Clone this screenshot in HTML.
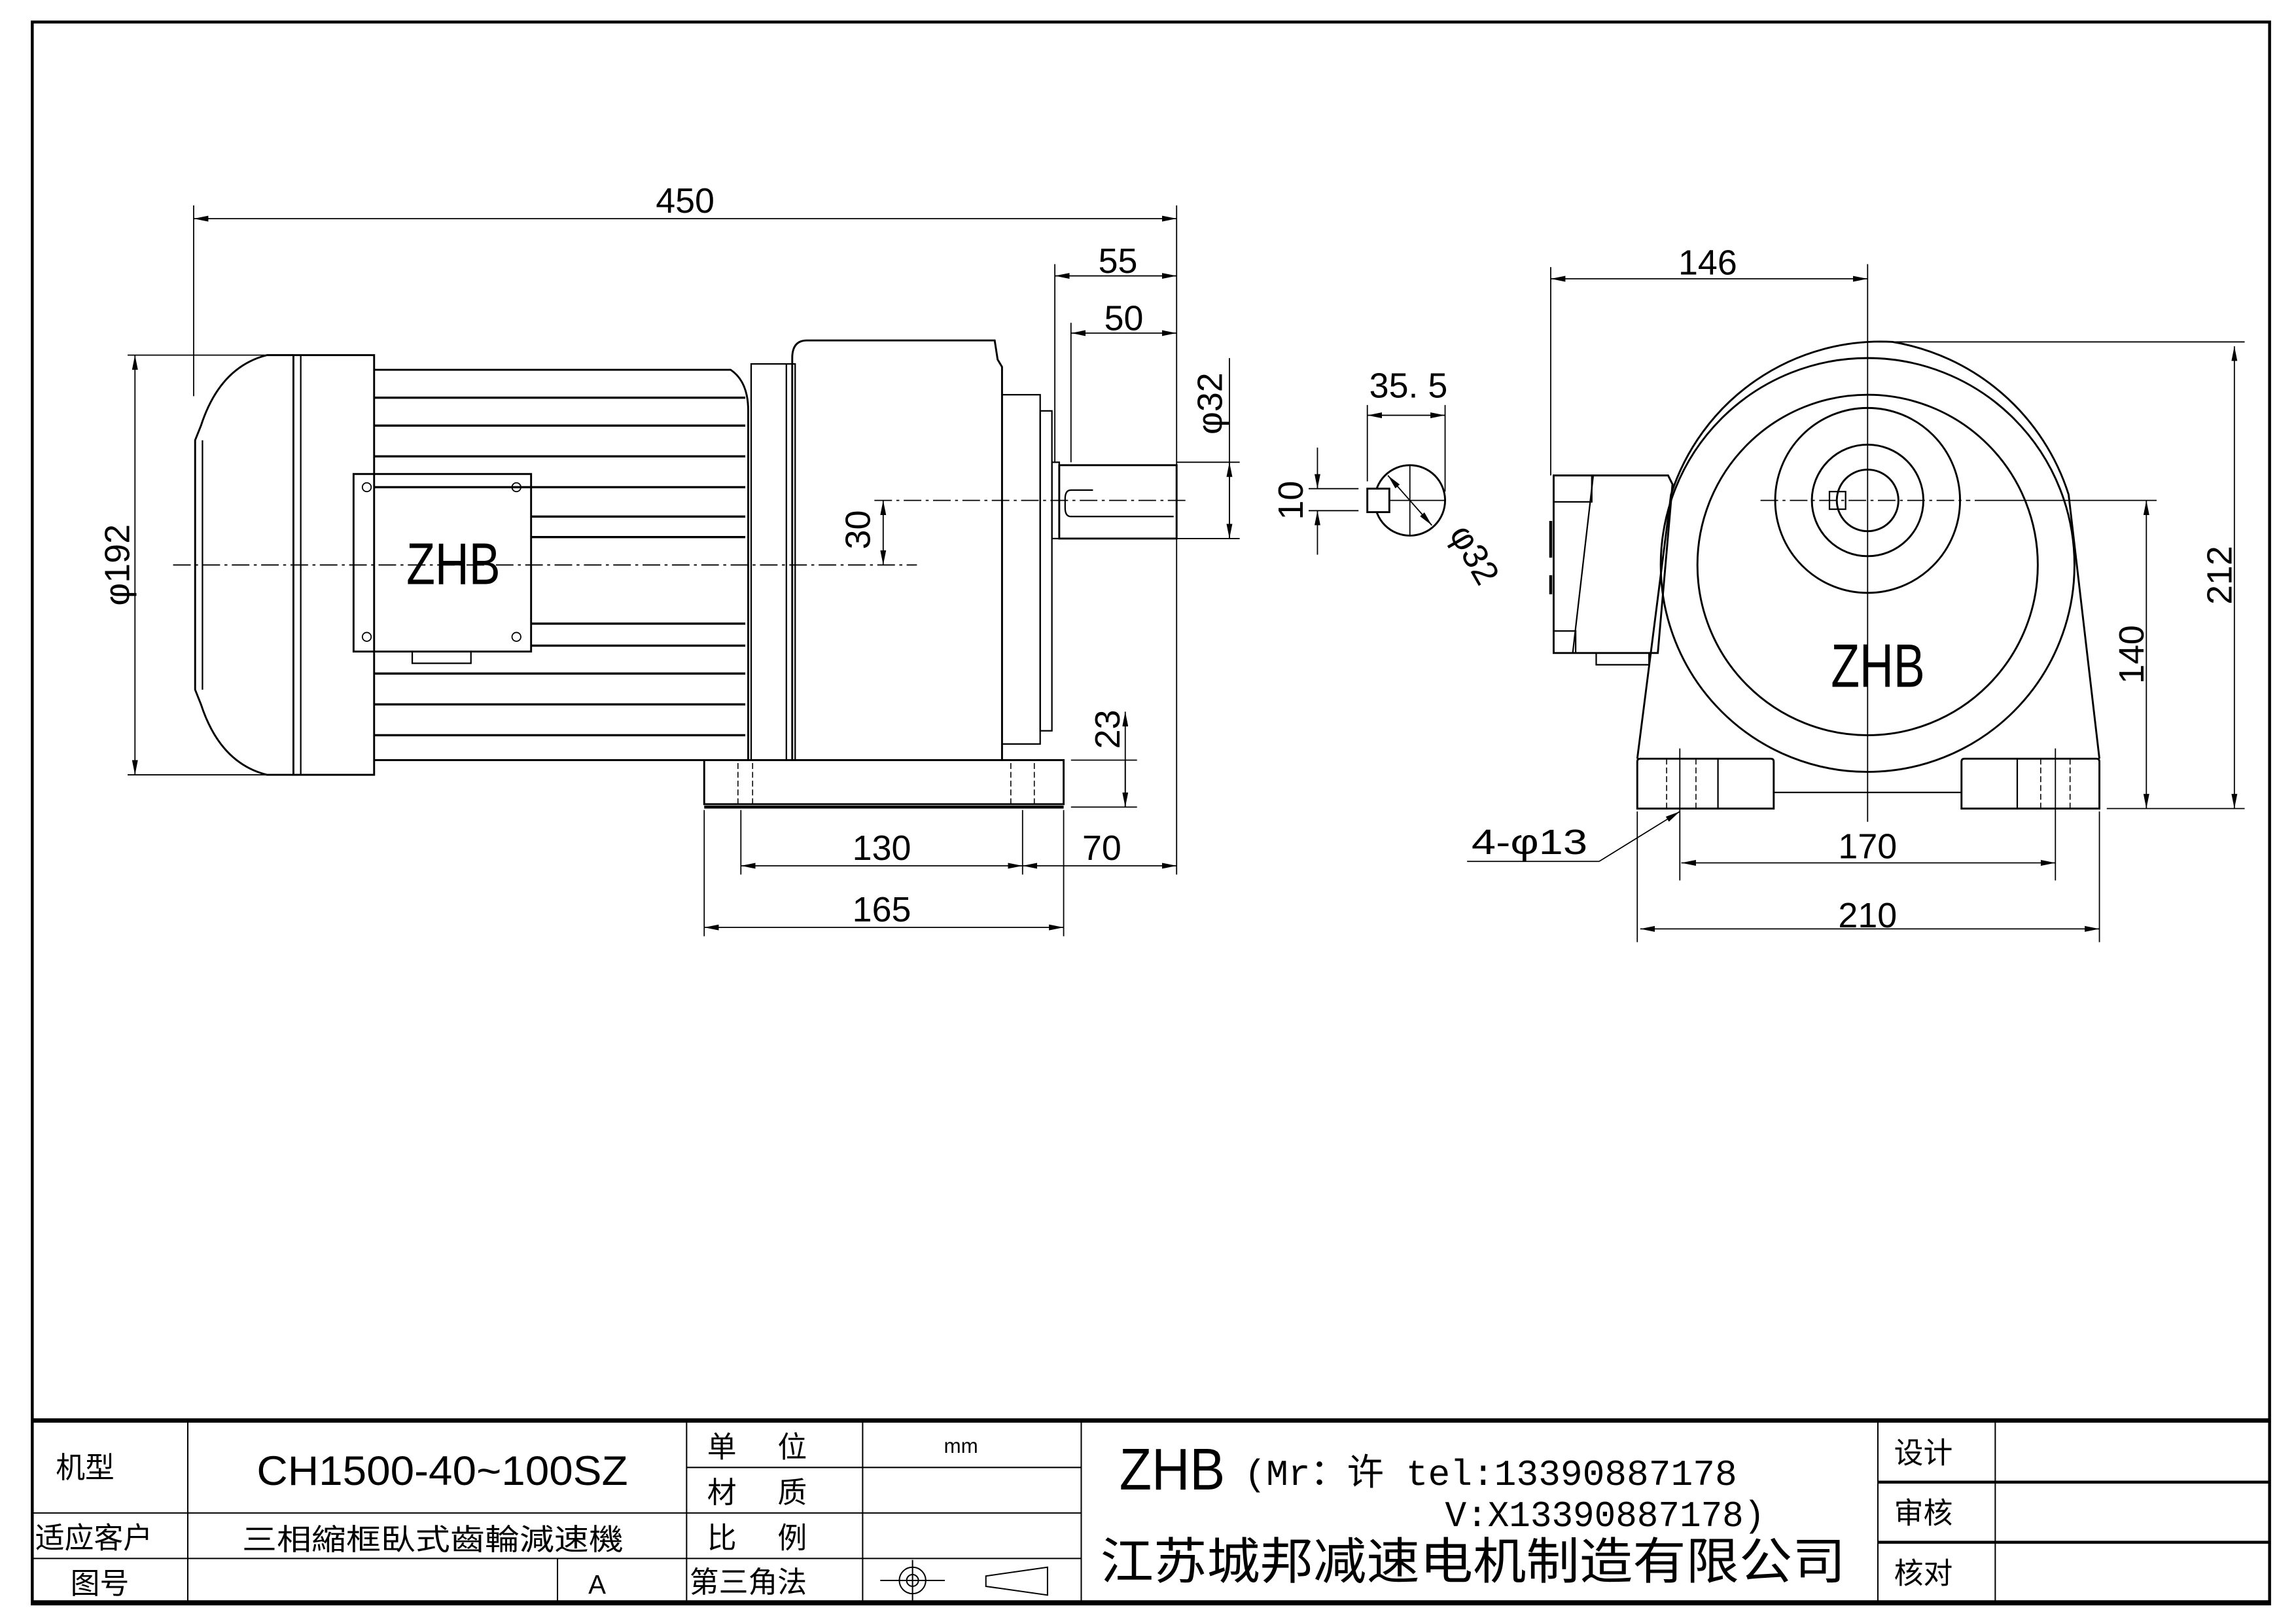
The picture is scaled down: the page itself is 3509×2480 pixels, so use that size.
<!DOCTYPE html>
<html><head><meta charset="utf-8"><style>html,body{margin:0;padding:0;background:#fff}svg{display:block}</style></head><body>
<svg width="3509" height="2480" viewBox="0 0 1565 1106" preserveAspectRatio="none" xmlns="http://www.w3.org/2000/svg" font-family="Liberation Sans, Noto Sans CJK SC, sans-serif">
<defs>
<marker id="a" viewBox="0 0 10 4" refX="10" refY="2" markerWidth="10" markerHeight="4" orient="auto-start-reverse" markerUnits="userSpaceOnUse"><path d="M0,0L10,2L0,4z" fill="#000"/></marker>
</defs>
<g fill="none" stroke="#000" stroke-width="1">
<rect x="22" y="15" width="1525" height="1078" stroke-width="2"/>
<path d="M200,242 L182,242 Q150,250 137,290 L133,300 L133,470 L137,480 Q150,520 182,528 L200,528" stroke-width="1.3"/>
<line x1="138" y1="300" x2="138" y2="470"/>
<rect x="200" y="242" width="55" height="286" stroke-width="1.3"/>
<line x1="205" y1="242" x2="205" y2="528"/>
<path d="M255,252 L498,252 Q510,260 510,280 L510,518 L255,518" stroke-width="1.3"/>
<g stroke-width="1.5">
<line x1="255" y1="271" x2="508" y2="271"/><line x1="255" y1="290" x2="508" y2="290"/><line x1="255" y1="311" x2="508" y2="311"/><line x1="255" y1="332" x2="508" y2="332"/><line x1="362" y1="352" x2="508" y2="352"/><line x1="362" y1="366" x2="508" y2="366"/><line x1="362" y1="425" x2="508" y2="425"/><line x1="362" y1="440" x2="508" y2="440"/><line x1="255" y1="459" x2="508" y2="459"/><line x1="255" y1="480" x2="508" y2="480"/><line x1="255" y1="501" x2="508" y2="501"/></g>
<rect x="241" y="323" width="121" height="121" stroke-width="1.3"/>
<rect x="281" y="444" width="40" height="8"/>
<g stroke-width="0.8"><circle cx="250" cy="332" r="3"/><circle cx="352" cy="332" r="3"/><circle cx="250" cy="434" r="3"/><circle cx="352" cy="434" r="3"/></g>
<rect x="512" y="248" width="30" height="270"/>
<path d="M540,518 L540,244 Q540,232 550,232 L678,232 L680,245 L683,250 L683,518 Z" stroke-width="1.3"/>
<line x1="536" y1="248" x2="536" y2="518"/>
<rect x="683" y="269" width="26" height="238"/>
<rect x="709" y="280" width="8" height="218"/>
<rect x="717" y="315" width="5" height="52"/>
<rect x="722" y="317" width="80" height="50" stroke-width="1.3"/>
<path d="M745,334 L730,334 Q726,334 726,340 L726,346 Q726,352 730,352 L800,352" />
<path d="M480,548 L480,518 L725,518 L725,548 Z" stroke-width="1.3"/>
<line x1="480" y1="550" x2="725" y2="550" stroke-width="2"/>
<g stroke-dasharray="4,2" stroke-width="0.7"><line x1="503" y1="520" x2="503" y2="550"/><line x1="513" y1="520" x2="513" y2="550"/><line x1="689" y1="520" x2="689" y2="550"/><line x1="705" y1="520" x2="705" y2="550"/></g>
<g stroke-dasharray="12,3,2,3" stroke-width="0.8"><line x1="118" y1="385" x2="625" y2="385"/><line x1="596" y1="341" x2="808" y2="341"/></g>
<g stroke-width="0.8">
<line x1="132" y1="140" x2="132" y2="270"/><line x1="802" y1="140" x2="802" y2="596"/>
<line x1="132" y1="149" x2="802" y2="149" marker-start="url(#a)" marker-end="url(#a)"/>
<line x1="719" y1="180" x2="719" y2="315"/><line x1="719" y1="188" x2="802" y2="188" marker-start="url(#a)" marker-end="url(#a)"/>
<line x1="730" y1="220" x2="730" y2="315"/><line x1="730" y1="227" x2="802" y2="227" marker-start="url(#a)" marker-end="url(#a)"/>
<line x1="802" y1="315" x2="845" y2="315"/><line x1="802" y1="367" x2="845" y2="367"/>
<line x1="838" y1="244" x2="838" y2="367" marker-end="url(#a)"/><line x1="838" y1="315" x2="838" y2="367" marker-start="url(#a)"/>
<line x1="87" y1="242" x2="200" y2="242"/><line x1="87" y1="528" x2="200" y2="528"/>
<line x1="92" y1="242" x2="92" y2="528" marker-start="url(#a)" marker-end="url(#a)"/>
<line x1="602" y1="341" x2="602" y2="385" marker-start="url(#a)" marker-end="url(#a)"/>
<line x1="730" y1="518" x2="775" y2="518"/><line x1="730" y1="550" x2="775" y2="550"/>
<line x1="767" y1="485" x2="767" y2="550" marker-start="url(#a)"/><line x1="767" y1="518" x2="767" y2="550" marker-end="url(#a)"/>
<line x1="480" y1="552" x2="480" y2="638"/><line x1="725" y1="552" x2="725" y2="638"/><line x1="505" y1="552" x2="505" y2="596"/><line x1="697" y1="552" x2="697" y2="596"/>
<line x1="505" y1="590" x2="697" y2="590" marker-start="url(#a)" marker-end="url(#a)"/>
<line x1="697" y1="590" x2="802" y2="590" marker-start="url(#a)" marker-end="url(#a)"/>
<line x1="480" y1="632" x2="725" y2="632" marker-start="url(#a)" marker-end="url(#a)"/>
<line x1="932" y1="276" x2="932" y2="328"/><line x1="985" y1="276" x2="985" y2="335"/>
<line x1="932" y1="283" x2="985" y2="283" marker-start="url(#a)" marker-end="url(#a)"/>
<line x1="892" y1="333" x2="926" y2="333"/><line x1="892" y1="348" x2="926" y2="348"/>
<line x1="898" y1="305" x2="898" y2="333" marker-end="url(#a)"/><line x1="898" y1="348" x2="898" y2="378" marker-start="url(#a)"/>
<line x1="961" y1="317" x2="961" y2="365"/><line x1="937" y1="341" x2="985" y2="341"/>
<line x1="946" y1="324" x2="976" y2="358" marker-start="url(#a)" marker-end="url(#a)"/>
</g>
<circle cx="961" cy="341" r="24" stroke-width="1.3"/>
<rect x="932" y="333" width="15" height="16" fill="#fff" stroke-width="1.3"/>
<path d="M1116,517 L1139,337 A150,150 0 0 1 1290,233 A152,152 0 0 1 1410,337 L1431,517" stroke-width="1.3"/>
<circle cx="1273" cy="385" r="141" stroke-width="1.3"/>
<circle cx="1273" cy="385" r="116" stroke-width="1.3"/>
<circle cx="1273" cy="341" r="63" stroke-width="1.3"/>
<circle cx="1273" cy="341" r="38" stroke-width="1.3"/>
<circle cx="1273" cy="341" r="21" stroke-width="1.3"/>
<rect x="1247" y="335" width="11" height="12"/>
<path d="M1059,324 L1137,324 L1140,330 L1130,445 L1059,445 Z" stroke-width="1.3"/>
<line x1="1086" y1="324" x2="1072" y2="445"/>
<rect x="1059" y="324" width="26" height="18"/><rect x="1059" y="430" width="15" height="15"/>
<rect x="1088" y="445" width="36" height="8"/>
<line x1="1057" y1="355" x2="1057" y2="380" stroke-width="2"/><line x1="1057" y1="392" x2="1057" y2="405" stroke-width="2"/>
<path d="M1116,551 L1116,519 Q1116,517 1118,517 L1207,517 Q1209,517 1209,519 L1209,551 Z" stroke-width="1.3"/>
<path d="M1337,551 L1337,519 Q1337,517 1339,517 L1429,517 Q1431,517 1431,519 L1431,551 Z" stroke-width="1.3"/>
<line x1="1209" y1="540" x2="1337" y2="540"/>
<line x1="1171" y1="517" x2="1171" y2="551"/><line x1="1375" y1="517" x2="1375" y2="551"/>
<g stroke-dasharray="4,2" stroke-width="0.7"><line x1="1136" y1="517" x2="1136" y2="551"/><line x1="1156" y1="517" x2="1156" y2="551"/><line x1="1391" y1="517" x2="1391" y2="551"/><line x1="1411" y1="517" x2="1411" y2="551"/></g>
<g stroke-width="0.8">
<line x1="1273" y1="180" x2="1273" y2="560"/>
<line x1="1145" y1="510" x2="1145" y2="600"/><line x1="1401" y1="510" x2="1401" y2="600"/>
<line x1="1200" y1="341" x2="1343" y2="341" stroke-dasharray="12,3,2,3"/>
<line x1="1346" y1="341" x2="1470" y2="341"/>
<line x1="1057" y1="182" x2="1057" y2="324"/>
<line x1="1057" y1="190" x2="1273" y2="190" marker-start="url(#a)" marker-end="url(#a)"/>
<line x1="1280" y1="233" x2="1530" y2="233"/><line x1="1436" y1="551" x2="1530" y2="551"/>
<line x1="1523" y1="236" x2="1523" y2="551" marker-start="url(#a)" marker-end="url(#a)"/>
<line x1="1463" y1="341" x2="1463" y2="551" marker-start="url(#a)" marker-end="url(#a)"/>
<line x1="1146" y1="588" x2="1401" y2="588" marker-start="url(#a)" marker-end="url(#a)"/>
<line x1="1116" y1="553" x2="1116" y2="642"/><line x1="1431" y1="553" x2="1431" y2="642"/>
<line x1="1118" y1="633" x2="1431" y2="633" marker-start="url(#a)" marker-end="url(#a)"/>
<line x1="1000" y1="587" x2="1090" y2="587"/><line x1="1090" y1="587" x2="1145" y2="553" marker-end="url(#a)"/>
</g>
<line x1="22" y1="968" x2="1547" y2="968" stroke-width="3"/>
<line x1="22" y1="1092" x2="1547" y2="1092" stroke-width="3"/>
<g stroke-width="0.9">
<line x1="128" y1="968" x2="128" y2="1092"/><line x1="468" y1="968" x2="468" y2="1092"/><line x1="588" y1="968" x2="588" y2="1092"/><line x1="737" y1="968" x2="737" y2="1092"/><line x1="1280" y1="968" x2="1280" y2="1092"/><line x1="1360" y1="968" x2="1360" y2="1092"/><line x1="380" y1="1062" x2="380" y2="1092"/>
<line x1="468" y1="1000" x2="737" y2="1000"/><line x1="22" y1="1031" x2="737" y2="1031"/><line x1="22" y1="1062" x2="737" y2="1062"/>
<line x1="1280" y1="1010" x2="1547" y2="1010" stroke-width="2"/><line x1="1280" y1="1051" x2="1547" y2="1051" stroke-width="2"/>
<circle cx="622" cy="1077" r="9"/><circle cx="622" cy="1077" r="4"/><line x1="600" y1="1077" x2="644" y2="1077"/><line x1="622" y1="1063" x2="622" y2="1091"/>
<path d="M714,1068 L672,1074 L672,1081 L714,1087 Z"/>
</g>
</g>
<g font-size="24" fill="#000">
<text x="467" y="145" text-anchor="middle">450</text>
<text x="762" y="186" text-anchor="middle">55</text>
<text x="766" y="225" text-anchor="middle">50</text>
<text x="601" y="586" text-anchor="middle">130</text>
<text x="751" y="586" text-anchor="middle">70</text>
<text x="601" y="628" text-anchor="middle">165</text>
<text x="960" y="271" text-anchor="middle">35. 5</text>
<text x="1164" y="187" text-anchor="middle">146</text>
<text x="1273" y="585" text-anchor="middle">170</text>
<text x="1273" y="632" text-anchor="middle">210</text>
<text x="1003" y="582" textLength="79" lengthAdjust="spacingAndGlyphs">4-φ13</text>
<text transform="translate(833,275) rotate(-90)" text-anchor="middle">φ32</text>
<text transform="translate(88,385) rotate(-90)" text-anchor="middle">φ192</text>
<text transform="translate(593,361) rotate(-90)" text-anchor="middle">30</text>
<text transform="translate(763,497) rotate(-90)" text-anchor="middle">23</text>
<text transform="translate(888,341) rotate(-90)" text-anchor="middle">10</text>
<text transform="translate(998,382) rotate(60)" text-anchor="middle">φ32</text>
<text transform="translate(1521,392) rotate(-90)" text-anchor="middle">212</text>
<text transform="translate(1461,446) rotate(-90)" text-anchor="middle">140</text>
<text x="277" y="398" font-size="40" textLength="64" lengthAdjust="spacingAndGlyphs">ZHB</text>
<text x="1248" y="468" font-size="42" textLength="64" lengthAdjust="spacingAndGlyphs">ZHB</text>
</g>
<g fill="#000" font-size="20">
<text x="38" y="1007">机型</text>
<text x="175" y="1012" font-size="28" textLength="253" lengthAdjust="spacingAndGlyphs">CH1500-40~100SZ</text>
<text x="482" y="993" textLength="68">单  位</text>
<text x="482" y="1024" textLength="68">材  质</text>
<text x="482" y="1055" textLength="68">比  例</text>
<text x="470" y="1085">第三角法</text>
<text x="655" y="990" font-size="14" text-anchor="middle">mm</text>
<text x="24" y="1055">适应客户</text>
<text x="165" y="1056" textLength="260" lengthAdjust="spacingAndGlyphs">三相縮框臥式齒輪減速機</text>
<text x="48" y="1086">图号</text>
<text x="407" y="1086" text-anchor="middle" font-size="18">A</text>
<text x="763" y="1015" font-size="40" textLength="72" lengthAdjust="spacingAndGlyphs">ZHB</text>
<text x="848" y="1012" font-size="25" font-family="Liberation Mono, Noto Sans CJK SC, monospace" textLength="336" lengthAdjust="spacingAndGlyphs">(Mr：许 tel:13390887178</text>
<text x="985" y="1040" font-size="25" font-family="Liberation Mono, Noto Sans CJK SC, monospace" textLength="218" lengthAdjust="spacingAndGlyphs">V:X13390887178)</text>
<text x="750" y="1076" font-size="34" textLength="508" lengthAdjust="spacingAndGlyphs">江苏城邦减速电机制造有限公司</text>
<text x="1291" y="997">设计</text>
<text x="1291" y="1038">审核</text>
<text x="1291" y="1079">核对</text>
</g>
</svg>
</body></html>
